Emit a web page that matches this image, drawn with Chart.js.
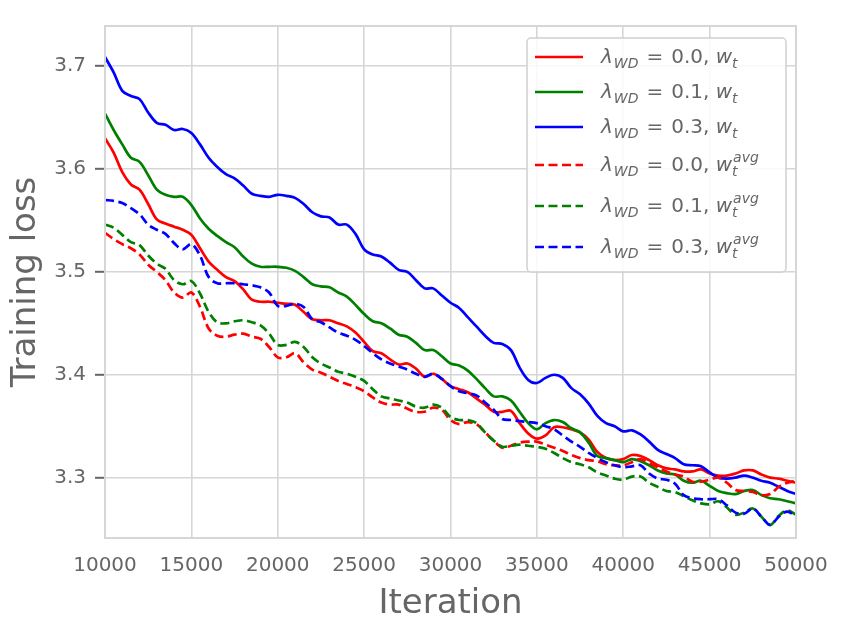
<!DOCTYPE html>
<html lang="en">
<head>
<meta charset="UTF-8">
<title>Training loss vs iteration</title>
<script src="https://cdn.jsdelivr.net/npm/chart.js"></script>
<style>
  body { margin: 0; background: #fff; }
  #chart { display: block; }
</style>
</head>
<body>
<canvas id="chart" width="852" height="633"></canvas>
<script>
// x values (iteration), sampled every 500
const iterations = [
  10000, 10500, 11000, 11500, 12000, 12500, 13000, 13500, 14000, 14500,
  15000, 15500, 16000, 16500, 17000, 17500, 18000, 18500, 19000, 19500,
  20000, 20500, 21000, 21500, 22000, 22500, 23000, 23500, 24000, 24500,
  25000, 25500, 26000, 26500, 27000, 27500, 28000, 28500, 29000, 29500,
  30000, 30500, 31000, 31500, 32000, 32500, 33000, 33500, 34000, 34500,
  35000, 35500, 36000, 36500, 37000, 37500, 38000, 38500, 39000, 39500,
  40000, 40500, 41000, 41500, 42000, 42500, 43000, 43500, 44000, 44500,
  45000, 45500, 46000, 46500, 47000, 47500, 48000, 48500, 49000, 49500,
  50000
];

// training loss of w_t
const lossWd00 = [
  3.630, 3.616, 3.597, 3.585, 3.580, 3.566, 3.551, 3.547, 3.544, 3.541,
  3.536, 3.523, 3.510, 3.502, 3.495, 3.491, 3.483, 3.473, 3.471, 3.471,
  3.470, 3.469, 3.468, 3.461, 3.454, 3.453, 3.453, 3.450, 3.447, 3.441,
  3.432, 3.423, 3.421, 3.415, 3.410, 3.411, 3.406, 3.398, 3.401, 3.396,
  3.389, 3.386, 3.383, 3.377, 3.371, 3.364, 3.364, 3.365, 3.353, 3.343,
  3.338, 3.341, 3.349, 3.349, 3.347, 3.344, 3.337, 3.325, 3.319, 3.317,
  3.318, 3.322, 3.321, 3.317, 3.312, 3.309, 3.308, 3.306, 3.306, 3.308,
  3.304, 3.302, 3.302, 3.304, 3.307, 3.307, 3.303, 3.300, 3.299, 3.297,
  3.295
];
const lossWd01 = [
  3.654, 3.638, 3.624, 3.611, 3.607, 3.594, 3.580, 3.575, 3.573, 3.573,
  3.565, 3.552, 3.542, 3.535, 3.529, 3.524, 3.515, 3.508, 3.505, 3.505,
  3.505, 3.504, 3.501, 3.495, 3.488, 3.486, 3.485, 3.480, 3.476, 3.468,
  3.459, 3.452, 3.450, 3.445, 3.439, 3.437, 3.431, 3.424, 3.424, 3.418,
  3.411, 3.409, 3.404, 3.396, 3.387, 3.379, 3.379, 3.375, 3.364, 3.353,
  3.347, 3.353, 3.356, 3.354, 3.348, 3.344, 3.334, 3.321, 3.319, 3.317,
  3.315, 3.318, 3.316, 3.312, 3.307, 3.304, 3.303, 3.297, 3.295, 3.297,
  3.292, 3.287, 3.285, 3.284, 3.287, 3.288, 3.283, 3.280, 3.279, 3.277,
  3.275
];
const lossWd03 = [
  3.709, 3.694, 3.676, 3.671, 3.668, 3.655, 3.645, 3.643, 3.638, 3.639,
  3.635, 3.624, 3.611, 3.602, 3.595, 3.591, 3.584, 3.576, 3.574, 3.573,
  3.575, 3.574, 3.572, 3.566, 3.558, 3.554, 3.553, 3.546, 3.546, 3.537,
  3.522, 3.517, 3.515, 3.509, 3.502, 3.500, 3.492, 3.484, 3.484, 3.477,
  3.470, 3.465, 3.456, 3.447, 3.438, 3.431, 3.430, 3.424, 3.407, 3.395,
  3.392, 3.397, 3.400, 3.397, 3.387, 3.381, 3.372, 3.360, 3.353, 3.350,
  3.345, 3.346, 3.342, 3.335, 3.327, 3.323, 3.319, 3.313, 3.312, 3.311,
  3.305, 3.300, 3.299, 3.300, 3.302, 3.300, 3.297, 3.295, 3.291, 3.287,
  3.284
];

// training loss of the averaged weights w_t^avg
const avgWd00 = [
  3.538, 3.532, 3.527, 3.523, 3.517, 3.507, 3.500, 3.492, 3.480, 3.475,
  3.480, 3.466, 3.445, 3.438, 3.437, 3.439, 3.440, 3.437, 3.435, 3.427,
  3.417, 3.417, 3.421, 3.412, 3.405, 3.402, 3.398, 3.394, 3.391, 3.388,
  3.384, 3.378, 3.373, 3.371, 3.371, 3.367, 3.364, 3.364, 3.368, 3.366,
  3.356, 3.352, 3.354, 3.352, 3.344, 3.336, 3.329, 3.331, 3.334, 3.335,
  3.335, 3.332, 3.329, 3.326, 3.322, 3.319, 3.317, 3.316, 3.313, 3.312,
  3.312, 3.315, 3.318, 3.314, 3.310, 3.306, 3.303, 3.301, 3.296, 3.296,
  3.298, 3.300, 3.295, 3.288, 3.287, 3.286, 3.283, 3.284, 3.291, 3.295,
  3.297
];
const avgWd01 = [
  3.546, 3.543, 3.536, 3.529, 3.526, 3.516, 3.508, 3.503, 3.492, 3.488,
  3.491, 3.479, 3.461, 3.451, 3.450, 3.452, 3.453, 3.451, 3.448, 3.440,
  3.429, 3.429, 3.432, 3.427, 3.417, 3.411, 3.407, 3.403, 3.401, 3.398,
  3.394, 3.386, 3.379, 3.377, 3.375, 3.373, 3.369, 3.368, 3.371, 3.368,
  3.359, 3.356, 3.356, 3.353, 3.344, 3.336, 3.330, 3.331, 3.332, 3.331,
  3.330, 3.328, 3.324, 3.319, 3.315, 3.313, 3.310, 3.305, 3.302, 3.299,
  3.298, 3.301, 3.301, 3.295, 3.291, 3.287, 3.286, 3.282, 3.278, 3.275,
  3.274, 3.277, 3.271, 3.264, 3.266, 3.270, 3.262, 3.254, 3.263, 3.268,
  3.264
];
const avgWd03 = [
  3.570, 3.569, 3.567, 3.562, 3.556, 3.546, 3.541, 3.537, 3.528, 3.522,
  3.527, 3.516, 3.495, 3.489, 3.489, 3.489, 3.488, 3.487, 3.485, 3.480,
  3.467, 3.467, 3.469, 3.466, 3.454, 3.451, 3.446, 3.441, 3.438, 3.434,
  3.428, 3.421, 3.415, 3.411, 3.408, 3.405, 3.401, 3.398, 3.401, 3.396,
  3.389, 3.384, 3.382, 3.380, 3.373, 3.366, 3.357, 3.356, 3.355, 3.354,
  3.353, 3.350, 3.347, 3.341, 3.335, 3.330, 3.324, 3.319, 3.315, 3.312,
  3.310, 3.311, 3.312, 3.304, 3.299, 3.298, 3.294, 3.283, 3.280, 3.279,
  3.279, 3.279, 3.273, 3.266, 3.265, 3.270, 3.262, 3.254, 3.262, 3.267,
  3.262
];

const xTicks = [10000, 15000, 20000, 25000, 30000, 35000, 40000, 45000, 50000];
const yTicks = [3.3, 3.4, 3.5, 3.6, 3.7];
const wdLabels = ['0.0', '0.1', '0.3'];

const FONT = "'DejaVu Sans', 'Liberation Sans', sans-serif";
const TEXT = '#666666';
const GRID = '#d6d6d6';

const series = [
  { wd: wdLabels[0], values: lossWd00, color: '#ff0000', avg: false },
  { wd: wdLabels[1], values: lossWd01, color: '#008000', avg: false },
  { wd: wdLabels[2], values: lossWd03, color: '#0000ff', avg: false },
  { wd: wdLabels[0], values: avgWd00, color: '#ff0000', avg: true },
  { wd: wdLabels[1], values: avgWd01, color: '#008000', avg: true },
  { wd: wdLabels[2], values: avgWd03, color: '#0000ff', avg: true }
];
const DASH = [9, 4.5];

// light grey frame on all four sides, like matplotlib spines
const framePlugin = {
  id: 'frame',
  afterDatasetsDraw(chart) {
    const { ctx, chartArea: a } = chart;
    ctx.save();
    ctx.strokeStyle = GRID;
    ctx.lineWidth = 2;
    ctx.strokeRect(a.left, a.top, a.right - a.left, a.bottom - a.top);
    ctx.restore();
  }
};

// legend with mathtext-like labels: λ_WD = 0.0, w_t (^avg)
const legendPlugin = {
  id: 'mathLegend',
  afterDraw(chart) {
    const ctx = chart.ctx;
    const box = { x: 527, y: 38, w: 259, h: 234 };
    const rowY = [57, 92, 127, 165, 206, 247];
    ctx.save();
    ctx.beginPath();
    ctx.roundRect(box.x, box.y, box.w, box.h, 4);
    ctx.fillStyle = 'rgba(255,255,255,0.85)';
    ctx.fill();
    ctx.strokeStyle = '#d0d0d0';
    ctx.lineWidth = 1.5;
    ctx.stroke();

    series.forEach((s, i) => {
      const y = rowY[i];
      ctx.beginPath();
      ctx.setLineDash(s.avg ? DASH : []);
      ctx.strokeStyle = s.color;
      ctx.lineWidth = 2.6;
      ctx.moveTo(535, y);
      ctx.lineTo(583, y);
      ctx.stroke();
      ctx.setLineDash([]);

      const base = y + 6;
      let x = 601;
      ctx.fillStyle = TEXT;
      ctx.textBaseline = 'alphabetic';
      ctx.textAlign = 'left';
      const put = (txt, font, dy) => {
        ctx.font = font;
        ctx.fillText(txt, x, base + dy);
        return ctx.measureText(txt).width;
      };
      x += put('λ', 'italic 20px ' + FONT, 0) + 1;
      x += put('WD', 'italic 14px ' + FONT, 5) + 8;
      x += put('=', '20px ' + FONT, 0) + 8;
      x += put(s.wd, '20px ' + FONT, 0);
      x += put(', ', '20px ' + FONT, 0);
      x += put('w', 'italic 20px ' + FONT, 0);
      const xs = x;
      put('t', 'italic 14px ' + FONT, 5);
      if (s.avg) {
        x = xs + 1;
        put('avg', 'italic 14px ' + FONT, -9);
      }
    });
    ctx.restore();
  }
};

new Chart(document.getElementById('chart'), {
  type: 'line',
  data: {
    datasets: series.map((s, i) => ({
      label: s.wd + (s.avg ? ' avg' : ''),
      data: iterations.map((it, k) => ({ x: it, y: s.values[k] })),
      borderColor: s.color,
      borderWidth: 2.7,
      borderDash: s.avg ? DASH : [],
      pointRadius: 0,
      tension: 0.35,
      fill: false,
      order: series.length - i
    }))
  },
  options: {
    responsive: false,
    animation: false,
    layout: { padding: { top: 26, right: 56, left: 0, bottom: 0 } },
    plugins: {
      legend: { display: false },
      tooltip: { enabled: false }
    },
    scales: {
      x: {
        type: 'linear',
        min: 10000,
        max: 50000,
        afterBuildTicks: (sc) => { sc.ticks = xTicks.map(v => ({ value: v })); },
        afterFit: (sc) => { sc.height = 95; },
        ticks: {
          font: { family: FONT, size: 20 },
          color: TEXT,
          padding: 16,
          maxRotation: 0,
          callback: (v) => String(v)
        },
        grid: { color: GRID, lineWidth: 1.6, drawTicks: false },
        border: { color: GRID, width: 2 },
        title: {
          display: true,
          text: 'Iteration',
          font: { family: FONT, size: 34 },
          color: TEXT,
          padding: { top: 0, bottom: 8 }
        }
      },
      y: {
        min: 3.2413,
        max: 3.7391,
        afterBuildTicks: (sc) => { sc.ticks = yTicks.map(v => ({ value: v })); },
        afterFit: (sc) => { sc.width = 105; },
        ticks: {
          font: { family: FONT, size: 20 },
          color: TEXT,
          padding: 9,
          callback: (v) => v.toFixed(1)
        },
        grid: { color: GRID, lineWidth: 1.6, tickColor: '#666666', tickLength: 10, tickWidth: 2 },
        border: { color: GRID, width: 2 },
        title: {
          display: true,
          text: 'Training loss',
          font: { family: FONT, size: 34 },
          color: TEXT,
          padding: { top: 6, bottom: 0 }
        }
      }
    }
  },
  plugins: [framePlugin, legendPlugin]
});
</script>
</body>
</html>
